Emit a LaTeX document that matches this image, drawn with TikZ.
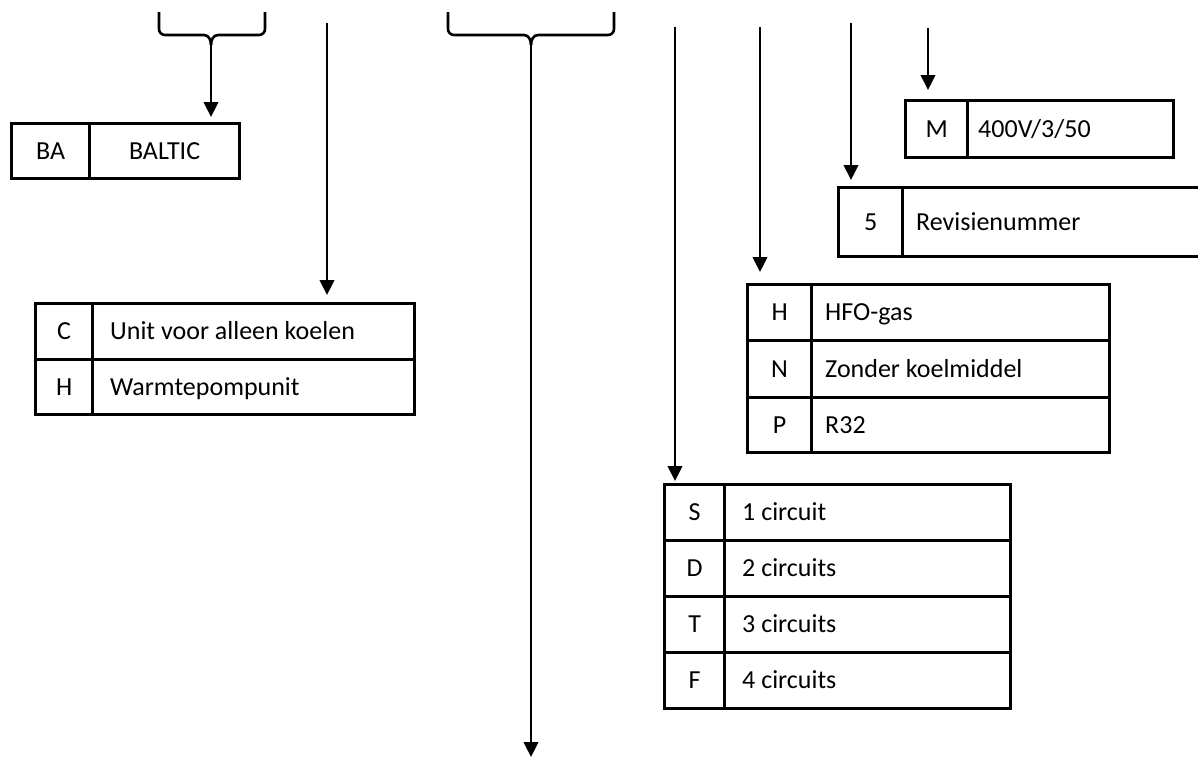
\documentclass[tikz,border=0pt]{standalone}
\usepackage{fontspec}
\setmainfont{Carlito}
\usetikzlibrary{arrows.meta}
\begin{document}
\begin{tikzpicture}[x=1pt,y=-1pt,
  box/.style={draw, line width=3.2pt, anchor=north west, inner sep=0pt, text height=21pt, text depth=4.3pt, font=\fontsize{26}{31}\selectfont},
  cc/.style 2 args={box, minimum width=#1, minimum height=#2},
  txt/.style={anchor=west, inner sep=0pt, text height=21pt, text depth=4.3pt, font=\fontsize{26}{31}\selectfont},
  arr/.style={line width=2.3pt, -{Triangle[width=14.5pt,length=15pt]}},
  brace/.style={line width=2.6pt}]
\useasboundingbox (0,0) rectangle (1198,761);

% BA box
\node[cc={78}{55}] (ba1) at (10,122) {BA};
\node[cc={150}{55}] (ba2) at (88,122) {BALTIC};

% C / H box
\node[cc={57}{56}] (ch1) at (34,302) {C};
\node[cc={322}{56}] (ch2) at (91,302) {};
\node[txt] (ch2t) at ([xshift=19pt]ch2.west) {Unit voor alleen koelen};
\node[cc={57}{55}] (ch3) at (34,358) {H};
\node[cc={322}{55}] (ch4) at (91,358) {};
\node[txt] (ch4t) at ([xshift=19pt]ch4.west) {Warmtepompunit};

% M box
\node[cc={62}{57}] (m1) at (904,99) {M};
\node[cc={206}{57}] (m2) at (966,99) {};
\node[txt] (m2t) at ([xshift=12pt]m2.west) {400V/3/50};

% 5 box
\node[cc={64}{69}] (r1) at (837,186) {5};
\node[cc={299}{69}] (r2) at (901,186) {};
\node[txt] (r2t) at ([xshift=15pt]r2.west) {Revisienummer};

% H / N / P box
\node[cc={64}{56}] (g1) at (746,283) {H};
\node[cc={298}{56}] (g2) at (810,283) {};
\node[txt] (g2t) at ([xshift=15pt]g2.west) {HFO-gas};
\node[cc={64}{57}] (g3) at (746,339) {N};
\node[cc={298}{57}] (g4) at (810,339) {};
\node[txt] (g4t) at ([xshift=15pt]g4.west) {Zonder koelmiddel};
\node[cc={64}{55}] (g5) at (746,396) {P};
\node[cc={298}{55}] (g6) at (810,396) {};
\node[txt] (g6t) at ([xshift=15pt]g6.west) {R32};

% S / D / T / F box
\node[cc={60}{56}] (s1) at (663,483) {S};
\node[cc={286}{56}] (s2) at (723,483) {};
\node[txt] (s2t) at ([xshift=19pt]s2.west) {1 circuit};
\node[cc={60}{56}] (s3) at (663,539) {D};
\node[cc={286}{56}] (s4) at (723,539) {};
\node[txt] (s4t) at ([xshift=19pt]s4.west) {2 circuits};
\node[cc={60}{56}] (s5) at (663,595) {T};
\node[cc={286}{56}] (s6) at (723,595) {};
\node[txt] (s6t) at ([xshift=19pt]s6.west) {3 circuits};
\node[cc={60}{56}] (s7) at (663,651) {F};
\node[cc={286}{56}] (s8) at (723,651) {};
\node[txt] (s8t) at ([xshift=19pt]s8.west) {4 circuits};

% braces
\coordinate (b1l) at (159,12);
\coordinate (b1r) at (265,12);
\coordinate (b1m) at (211,45);
\draw[brace] (b1l) -- (159,29) to[out=-90,in=180] (165,35) -- (204,35) to[out=0,in=90] (b1m);
\draw[brace] (b1r) -- (265,29) to[out=-90,in=0] (259,35) -- (218,35) to[out=180,in=90] (b1m);

\coordinate (b2l) at (448,12);
\coordinate (b2r) at (614,12);
\coordinate (b2m) at (531,45);
\draw[brace] (b2l) -- (448,29) to[out=-90,in=180] (454,35) -- (524,35) to[out=0,in=90] (b2m);
\draw[brace] (b2r) -- (614,29) to[out=-90,in=0] (608,35) -- (538,35) to[out=180,in=90] (b2m);

% arrows
\coordinate (t2) at (327,23);
\coordinate (t4) at (675,27);
\coordinate (t5) at (760,27);
\coordinate (t6) at (851,23);
\coordinate (t7) at (928,28);
\coordinate (e3) at (531,757);

\draw[arr,shorten >=5pt] (b1m) -- (b1m |- ba2.north);
\draw[arr,shorten >=7pt] (t2) -- (t2 |- ch2.north);
\draw[arr] (b2m) -- (e3);
\draw[arr,shorten >=2pt] (t4) -- (t4 |- s1.north);
\draw[arr,shorten >=11pt] (t5) -- (t5 |- g1.north);
\draw[arr,shorten >=6pt] (t6) -- (t6 |- r1.north);
\draw[arr,shorten >=9pt] (t7) -- (t7 |- m1.north);
\end{tikzpicture}
\end{document}
